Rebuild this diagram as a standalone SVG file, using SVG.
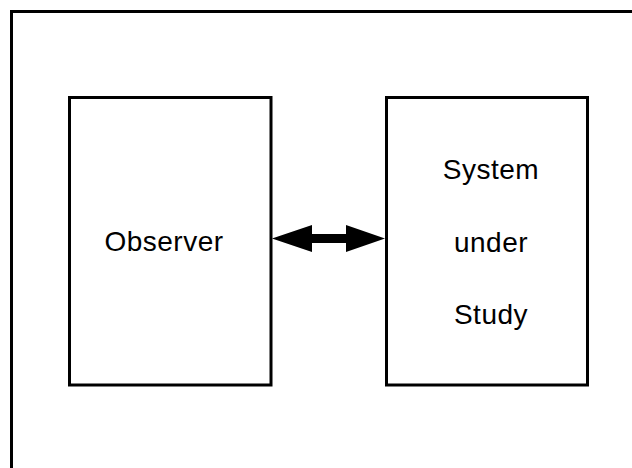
<svg xmlns="http://www.w3.org/2000/svg" width="632" height="468" viewBox="0 0 632 468">
<style>
.frame{fill:none;stroke:#000;stroke-width:3}
.box{fill:#fff;stroke:#000;stroke-width:3}
.lbl{font-family:"Liberation Sans",Arial,sans-serif;font-size:28px;letter-spacing:0.5px;fill:#000;text-anchor:middle}
</style>
<rect class="frame" x="11.5" y="11.5" width="700" height="520"/>
<g id="observer">
<rect class="box" x="69.5" y="97.5" width="201.5" height="287.5"/>
<text class="lbl" x="164" y="251">Observer</text>
</g>
<g id="system">
<rect class="box" x="386.5" y="97.5" width="201" height="287.5"/>
<text class="lbl" x="491" y="179">System</text>
<text class="lbl" x="491" y="251.5">under</text>
<text class="lbl" x="491" y="324">Study</text>
</g>
<g id="connectors">
<polygon fill="#000" points="272,238.5 312,225 312,234 346,234 346,225 385,238.5 346,252 346,243 312,243 312,252"/>
</g>
</svg>
